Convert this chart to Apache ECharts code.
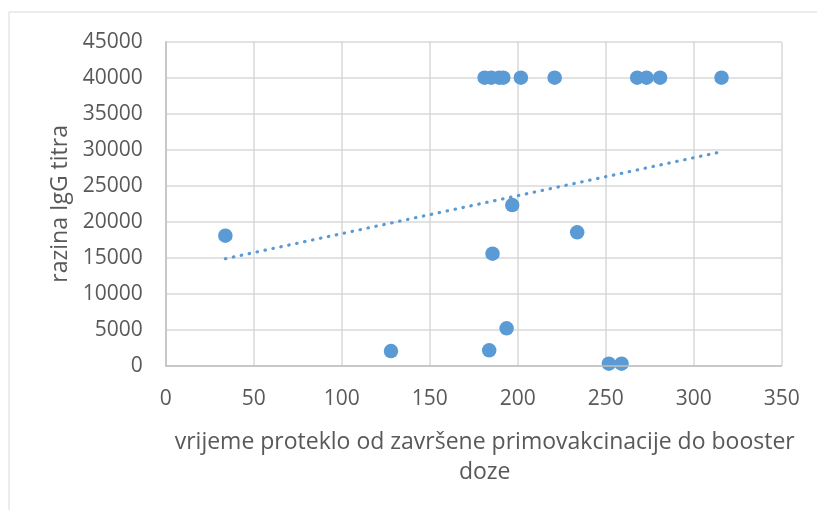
<!DOCTYPE html>
<html>
<head>
<meta charset="utf-8">
<script src="https://cdn.jsdelivr.net/npm/echarts@6/dist/echarts.min.js"></script>
<style>
html,body{margin:0;padding:0;background:#fff;}
#c{width:817px;height:510px;}
</style>
</head>
<body>
<div id="c"></div>
<script>
// Data
var daysX = [33.9, 128, 183.8, 185.7, 193.7, 196.9, 233.8, 251.8, 259,
             181.2, 185, 189.5, 191.8, 201.8, 221, 267.9, 273.2, 280.9, 315.8];
var iggY  = [18077, 2081, 2178, 15580, 5230, 22336, 18549, 320, 320,
             40000, 40000, 40000, 40000, 40000, 40000, 40000, 40000, 40000, 40000];
// Linear trendline endpoints (as drawn in the reference)
var trendX = [33.9, 315.8];
var trendY = [14886, 29730];
var xTicks = [0, 50, 100, 150, 200, 250, 300, 350];
var yTicks = [0, 5000, 10000, 15000, 20000, 25000, 30000, 35000, 40000, 45000];
var xTitle = 'vrijeme proteklo od završene primovakcinacije do booster\ndoze';
var yTitle = 'razina IgG titra';

var pts = daysX.map(function (x, i) { return [x, iggY[i]]; });
var trend = trendX.map(function (x, i) { return [x, trendY[i]]; });

var FONT = 'Open Sans';
var chart = echarts.init(document.getElementById('c'));
chart.setOption({
  animation: false,
  backgroundColor: '#fff',
  grid: { left: 165.7, right: 35.3, top: 41.7, bottom: 144 },
  xAxis: {
    type: 'value', min: xTicks[0], max: xTicks[xTicks.length - 1], interval: 50,
    axisLine: { show: false },
    axisTick: { show: false },
    splitLine: { show: true, lineStyle: { color: '#d9d9d9', width: 1.5 } },
    axisLabel: { color: '#595959', fontFamily: FONT, fontSize: 21, margin: 23,
                 formatter: function (v) { return String(v); } },
    name: xTitle, nameLocation: 'middle', nameGap: 61,
    nameTextStyle: { color: '#595959', fontFamily: FONT, fontSize: 23, lineHeight: 30, padding: [0, 0, 0, 22], verticalAlign: 'top' }
  },
  yAxis: {
    type: 'value', min: yTicks[0], max: yTicks[yTicks.length - 1], interval: 5000,
    axisLine: { show: true, lineStyle: { color: '#bfbfbf', width: 1.5 } },
    axisTick: { show: false },
    splitLine: { show: true, lineStyle: { color: '#d9d9d9', width: 1.5 } },
    axisLabel: { color: '#595959', fontFamily: FONT, fontSize: 21, margin: 23,
                 formatter: function (v) { return String(v); } },
    name: yTitle, nameLocation: 'middle', nameGap: 90, nameRotate: 90,
    nameTextStyle: { color: '#595959', fontFamily: FONT, fontSize: 23 }
  },
  graphic: [
    { type: 'line', shape: { x1: 9, y1: 12, x2: 817, y2: 12 }, style: { stroke: '#d9d9d9', lineWidth: 1 } },
    { type: 'line', shape: { x1: 9, y1: 12, x2: 9, y2: 510 }, style: { stroke: '#d9d9d9', lineWidth: 1 } },
    { type: 'line', shape: { x1: 165.7, y1: 366, x2: 781.7, y2: 366 }, style: { stroke: '#bfbfbf', lineWidth: 1.5 }, z: 5 }
  ],
  series: [
    {
      type: 'scatter', data: pts, symbol: 'circle', symbolSize: 14.5,
      itemStyle: { color: '#5b9bd5', opacity: 1 }, z: 3
    },
    {
      type: 'line', data: trend, symbol: 'none', z: 4,
      lineStyle: { color: '#5b9bd5', width: 3.2, type: [0.5, 7.6], cap: 'round' }
    }
  ]
});
</script>
</body>
</html>
